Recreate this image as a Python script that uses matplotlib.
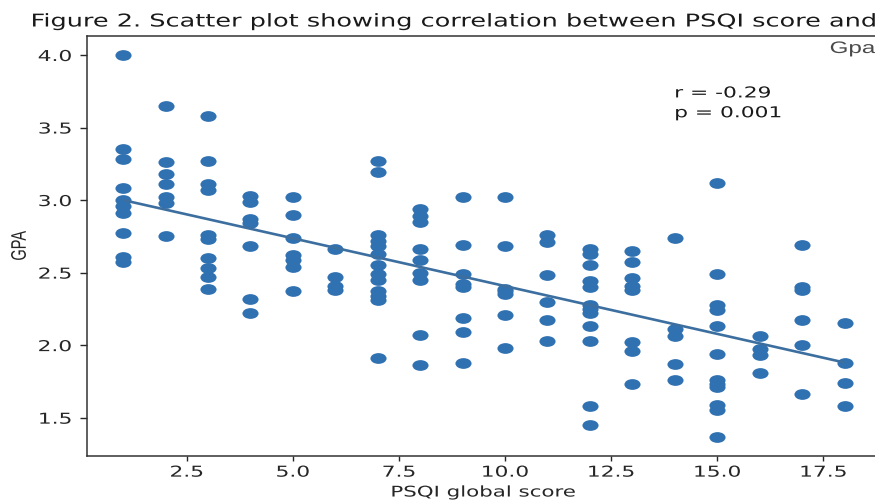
import numpy as np
import matplotlib
matplotlib.use("Agg")
import matplotlib.pyplot as plt
from matplotlib.patheffects import AbstractPathEffect
from matplotlib.transforms import Affine2D
from matplotlib.path import Path

# ---------------- data ----------------
psqi_score = [
    1, 1, 1, 1, 1, 1, 1, 1, 1, 1,
    2, 2, 2, 2, 2, 2, 2,
    3, 3, 3, 3, 3, 3, 3, 3, 3, 3,
    4, 4, 4, 4, 4, 4, 4,
    5, 5, 5, 5, 5, 5, 5,
    6, 6, 6, 6,
    7, 7, 7, 7, 7, 7, 7, 7, 7, 7, 7, 7, 7,
    8, 8, 8, 8, 8, 8, 8, 8, 8,
    9, 9, 9, 9, 9, 9, 9, 9,
    10, 10, 10, 10, 10, 10, 10,
    11, 11, 11, 11, 11, 11,
    12, 12, 12, 12, 12, 12, 12, 12, 12, 12, 12, 12,
    13, 13, 13, 13, 13, 13, 13, 13,
    14, 14, 14, 14, 14,
    15, 15, 15, 15, 15, 15, 15, 15, 15, 15, 15, 15,
    16, 16, 16, 16,
    17, 17, 17, 17, 17, 17,
    18, 18, 18, 18,
]
gpa = [
    4.00, 3.35, 3.28, 3.08, 3.00, 2.96, 2.91, 2.77, 2.61, 2.57,
    3.65, 3.26, 3.18, 3.11, 3.02, 2.98, 2.75,
    3.58, 3.27, 3.11, 3.07, 2.76, 2.73, 2.60, 2.53, 2.47, 2.39,
    3.03, 2.99, 2.87, 2.84, 2.68, 2.32, 2.22,
    3.02, 2.90, 2.74, 2.62, 2.59, 2.54, 2.37,
    2.66, 2.47, 2.41, 2.38,
    3.27, 3.19, 2.76, 2.72, 2.68, 2.63, 2.55, 2.49, 2.45, 2.37, 2.34, 2.31, 1.91,
    2.94, 2.89, 2.85, 2.66, 2.59, 2.50, 2.45, 2.07, 1.86,
    3.02, 2.69, 2.49, 2.42, 2.40, 2.19, 2.09, 1.88,
    3.02, 2.68, 2.39, 2.37, 2.35, 2.21, 1.98,
    2.76, 2.71, 2.48, 2.30, 2.17, 2.03,
    2.66, 2.63, 2.55, 2.44, 2.40, 2.28, 2.25, 2.22, 2.13, 2.03, 1.58, 1.45,
    2.65, 2.57, 2.46, 2.41, 2.38, 2.02, 1.96, 1.73,
    2.74, 2.11, 2.06, 1.87, 1.76,
    3.12, 2.49, 2.28, 2.24, 2.13, 1.94, 1.76, 1.73, 1.71, 1.59, 1.55, 1.37,
    2.06, 1.97, 1.93, 1.81,
    2.69, 2.40, 2.38, 2.17, 2.00, 1.66,
    2.15, 1.88, 1.74, 1.58,
]
fit_x = [1, 18]
fit_y = [3.00, 1.88]
x_ticks = [2.5, 5.0, 7.5, 10.0, 12.5, 15.0, 17.5]
y_ticks = [1.5, 2.0, 2.5, 3.0, 3.5, 4.0]
title_text = "Figure 2. Scatter plot showing correlation between PSQI score and"
stats_text = "r = -0.29\np = 0.001"
corner_text = "Gpa"
x_label = "PSQI global score"
y_label = "GPA"


# ------------- horizontal stretch of rendered text (reference is widened) -------------
class Stretch(AbstractPathEffect):
    def __init__(self, sx=1.45, anchor="center"):
        super().__init__()
        self.sx = sx
        self.anchor = anchor

    def draw_path(self, renderer, gc, tpath, affine, rgbFace=None):
        ext = tpath.get_extents(affine)
        if self.anchor == "left":
            x0 = ext.x0
        elif self.anchor == "right":
            x0 = ext.x1
        else:
            x0 = 0.5 * (ext.x0 + ext.x1)
        tr = affine + Affine2D().translate(-x0, 0).scale(self.sx, 1.0).translate(x0, 0)
        renderer.draw_path(gc, tpath, tr, rgbFace)


SX = 1.45
DOT = "#3071b1"
LINE = "#3c6f9f"
INK = "#262626"

plt.rcParams["font.family"] = ["DejaVu Sans"]

fig = plt.figure(figsize=(8.75, 5.0), dpi=100)
ax = fig.add_axes([87 / 875, 44.4 / 500, 793.6 / 875, 419.7 / 500])

ellipse = Path.unit_circle().transformed(Affine2D().scale(1.5, 1.0))
ax.scatter(psqi_score, gpa, s=135, marker=ellipse, color=DOT, linewidths=0, zorder=2)
ax.plot(fit_x, fit_y, color=LINE, lw=1.9, zorder=3, solid_capstyle="butt")

ax.set_xticks(x_ticks)
ax.set_yticks(y_ticks)
ax.tick_params(axis="both", labelsize=10.8, color=INK, labelcolor=INK, width=1.0)
ax.tick_params(axis="x", length=3.5, pad=3)
ax.tick_params(axis="y", length=5, pad=6)
for sp in ax.spines.values():
    sp.set_color("#333333")
    sp.set_linewidth(1.1)

for lab in ax.get_xticklabels():
    lab.set_path_effects([Stretch(SX, "center")])
for lab in ax.get_yticklabels():
    lab.set_path_effects([Stretch(SX, "right")])

ax.set_xlabel(x_label, fontsize=10.6, color=INK)
ax.xaxis.set_label_coords(0.5, -0.0689)
ax.xaxis.label.set_path_effects([Stretch(SX, "center")])

ax.set_ylabel(y_label, fontsize=10.5, color=INK, family=["Liberation Sans", "DejaVu Sans"])
ax.yaxis.set_label_coords(-0.0762, 0.5)
ax.yaxis.label.set_path_effects([Stretch(SX, "center")])

ax.text(14.0, 3.79, stats_text, ha="left", va="top", fontsize=10.8, color="#1a1a1a",
        linespacing=1.4, path_effects=[Stretch(SX, "left")])

fig.text(31.3 / 875, 1 - 26.5 / 500, title_text, ha="left", va="baseline", fontsize=12.7,
         color="#1a1a1a", path_effects=[Stretch(SX, "left")])
fig.text(830 / 875, 1 - 53 / 500, corner_text, ha="left", va="baseline", fontsize=12,
         color="#4a4a4a", family=["Liberation Sans", "DejaVu Sans"],
         path_effects=[Stretch(SX, "left")])

fig.savefig("out.png", dpi=100)
